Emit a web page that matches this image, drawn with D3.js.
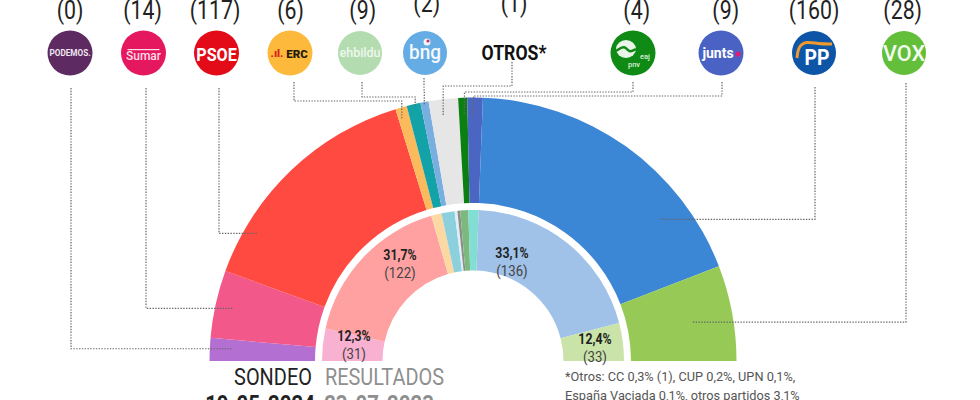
<!DOCTYPE html>
<html><head><meta charset="utf-8">
<script src="https://cdn.jsdelivr.net/npm/d3@7"></script>
<style>html,body{margin:0;padding:0;background:#fff;overflow:hidden}svg{display:block}</style>
</head><body><svg id="c" width="980" height="400"></svg>
<script>
// ---- data ----
const parties = ["Podemos","Sumar","PSOE","ERC","EH Bildu","BNG","Otros","PNV","Junts","PP","Vox"];
const seats = [0,14,117,6,9,2,1,4,9,160,28];
const pollShare = [2.8,8.3,29.4,1.4,1.7,1.0,3.6,1.1,1.9,37.1,11.7];
const resultParties = ["Sumar","PSOE","ERC","EH Bildu","BNG","CC","PNV","Junts","PP","Vox"];
const resultShare = [6.9,34.2,2.2,2.8,0.6,0.6,1.7,2.2,40.7,8.1];
const resultPct = ["12,3%","31,7%",null,null,null,null,null,null,"33,1%","12,4%"];
const resultSeats = ["(31)","(122)",null,null,null,null,null,null,"(136)","(33)"];
const footnote = ["*Otros: CC 0,3% (1), CUP 0,2%, UPN 0,1%,","España Vaciada 0,1%, otros partidos 3,1%"];
const headings = ["SONDEO","RESULTADOS"];
const dates = ["19-05-2024","23-07-2023"];

// ---- styles / layout ----
const pollColors = ["#b36fd2","#f3588b","#ff4a42","#fbbb5c","#12a2a8","#79aee0","#e6e6e6","#0b7f12","#4a66c2","#3c86d6","#97c957"];
const resultColors = ["#f8b1d0","#ffa1a1","#fcd9a2","#8ccfdd","#dfeef5","#8a8f8a","#7db97f","#80ded3","#a0c2e8","#c9e3a8"];
const logoX = [70,143.5,216.5,290,360,425,514,633,721,814,904];
const countX = [70,142.5,215,290.6,362.7,426.7,514,636.7,725.7,814,902.7];
const countY = [19,19,19,19,19,12,12,19,19,19,19];
const labelX = {0:354,1:400,8:512,9:595}, labelY = {0:341,1:260,8:258,9:344};
const cx = 473, cy = 361;
const leaders = [ // x of logo drop, start y, elbow y (null = run horizontally at the end), segment fraction, radius
  {x:71,y0:88,e:null,t:.58,r:240},{x:146,y0:88,e:null,t:.49,r:246},{x:219,y0:88,e:null,t:.2,r:251},
  {x:294,y0:82,e:101,t:.3,r:253},{x:362,y0:82,e:97,t:.6,r:262},{x:424,y0:78,e:90,t:.4,r:260},
  {x:512,y0:62,e:86,t:.43,r:247},{x:633,y0:82,e:92,t:.63,r:246},{x:722,y0:82,e:96,t:.41,r:246},
  {x:815,y0:87,e:null,t:.76,r:235},{x:906,y0:83,e:null,t:.52,r:222}];

const svg = d3.select("#c");
const ROB = "Roboto,sans-serif";
const ang = d3.scaleLinear().range([-Math.PI/2, Math.PI/2]);
const pie = (vals) => { ang.domain([0,d3.sum(vals)]); let s=0; return vals.map(v=>{const a={startAngle:ang(s),endAngle:ang(s+v)}; s+=v; return a;}); };
const g = svg.append("g").attr("transform",`translate(${cx},${cy})`);
const pollArcs = pie(pollShare);
const resArcs = pie(resultShare);
const outer = d3.arc().innerRadius(158).outerRadius(263.5);
const inner = d3.arc().innerRadius(90.5).outerRadius(151);
g.selectAll(".o").data(pollArcs).join("path").attr("class","o").attr("d",outer).attr("fill",(d,i)=>pollColors[i]);
g.selectAll(".i").data(resArcs).join("path").attr("class","i").attr("d",inner).attr("fill",(d,i)=>resultColors[i]);

// condensed text helper (horizontal squeeze of Roboto)
const C=(p,s,x,y,size,fill,w,sx,anchor)=>p.append("text").attr("transform",`translate(${x},${y}) scale(${sx},1)`)
  .attr("text-anchor",anchor||"middle").attr("font-family",ROB).attr("font-size",size).attr("font-weight",w||400).attr("fill",fill).text(s);

// leaders
const line = d3.line();
leaders.forEach((l,i)=>{
  const a = pollArcs[i], th = a.startAngle + l.t*(a.endAngle-a.startAngle);
  const [px,py] = d3.pointRadial(th,l.r); const ax=cx+px, ay=cy+py;
  const pts = l.e===null ? [[l.x,l.y0],[l.x,ay],[ax,ay]] : [[l.x,l.y0],[l.x,l.e],[ax,l.e],[ax,ay]];
  svg.append("path").attr("d",line(pts)).attr("fill","none").attr("stroke","#666").attr("stroke-width",1.2).attr("stroke-dasharray","1.4 1.4");
});

// ring labels
resultPct.forEach((p,k)=>{
  if(!p) return;
  C(svg,p,labelX[k],labelY[k],14,"#222",700,.88);
  C(svg,resultSeats[k],labelX[k],labelY[k]+17.5,15,"#444",400,.88);
});

// seat counts
seats.forEach((d,i)=>C(svg,`(${d})`,countX[i],countY[i],26,"#222",400,.82));

// logos
const logo = (i,r,fill)=>{const gg=svg.append("g").attr("transform",`translate(${logoX[i]},53)`); if(fill) gg.append("circle").attr("r",r).attr("fill",fill); return gg;};
let l;
l=logo(0,22.5,"#5d2b62");C(l,"PODEMOS.",0,3,8.2,"#f0e6f0",700,1);
l=logo(1,22.5,"#e5175e");C(l,"Sumar",0,7,12,"#fbdde8",500,1);l.append("rect").attr("x",-16).attr("y",-4).attr("width",32).attr("height",1.2).attr("fill","#fbdde8");
l=logo(2,22.5,"#e30b17");C(l,"PSOE",0,8,19,"#fff",700,.85);
l=logo(3,22.5,"#fdb93c");C(l,"ERC",7,4.5,11.5,"#231a0a",900,1);C(l,".ıl.",-13,4,11,"#d8201a",900,1);
l=logo(4,22,"#b4dcb1");C(l,"ehbildu",0,4,12.5,"#eef8ec",500,1);
l=logo(5,22,"#65ace4");C(l,"bng",0,6,20,"#f4f9fe",500,.95);l.append("circle").attr("cx",2).attr("cy",-11).attr("r",3.5).attr("fill","#f4f4f4");l.append("circle").attr("cx",3).attr("cy",-12).attr("r",1.6).attr("fill","#c3386e");
l=logo(6,0,null);C(l,"OTROS*",0,7,21,"#111",700,.84);
l=logo(7,22.5,"#0f8a14");C(l,"eaj",12,5.5,7.5,"#d8f0d8",500,1);C(l,"pnv",1,14,7.5,"#d8f0d8",500,1);l.append("ellipse").attr("cx",-7).attr("cy",-4).attr("rx",10).attr("ry",9).attr("fill","#e8f5e8");l.append("path").attr("d",d3.line().curve(d3.curveBasis)([[-17,-2],[-8,-8],[-4,0],[3,-4]])).attr("fill","none").attr("stroke","#0f8a14").attr("stroke-width",2.5);
l=logo(8,22.5,"#4a62c4");C(l,"junts",-3,5,14,"#fff",700,1);l.append("circle").attr("cx",17).attr("cy",1).attr("r",2.6).attr("fill","#d81e78");
l=logo(9,22,"#0d55a6");C(l,"PP",3,12,22,"#fff",700,.88);l.append("path").attr("d",d3.line().curve(d3.curveBasis)([[-17,5],[-16,-6],[-8,-12],[4,-9],[18,-9]])).attr("fill","none").attr("stroke","#ef9a2c").attr("stroke-width",3);
l=logo(10,22,"#63bf3a");C(l,"VOX",0,8,22,"#f2fbee",500,.98);

// headings and dates
const hX=[273,384.5], dX=[260,379], hFill=["#222","#8f8f8f"];
headings.forEach((h,i)=>C(svg,h,hX[i],385,24,hFill[i],400,.83));
dates.forEach((d,i)=>C(svg,d,dX[i],412,24,hFill[i],700,.85));
footnote.forEach((s,i)=>C(svg,s,565,381+i*18.5,13.5,"#555",400,.945,"start"));
</script></body></html>
